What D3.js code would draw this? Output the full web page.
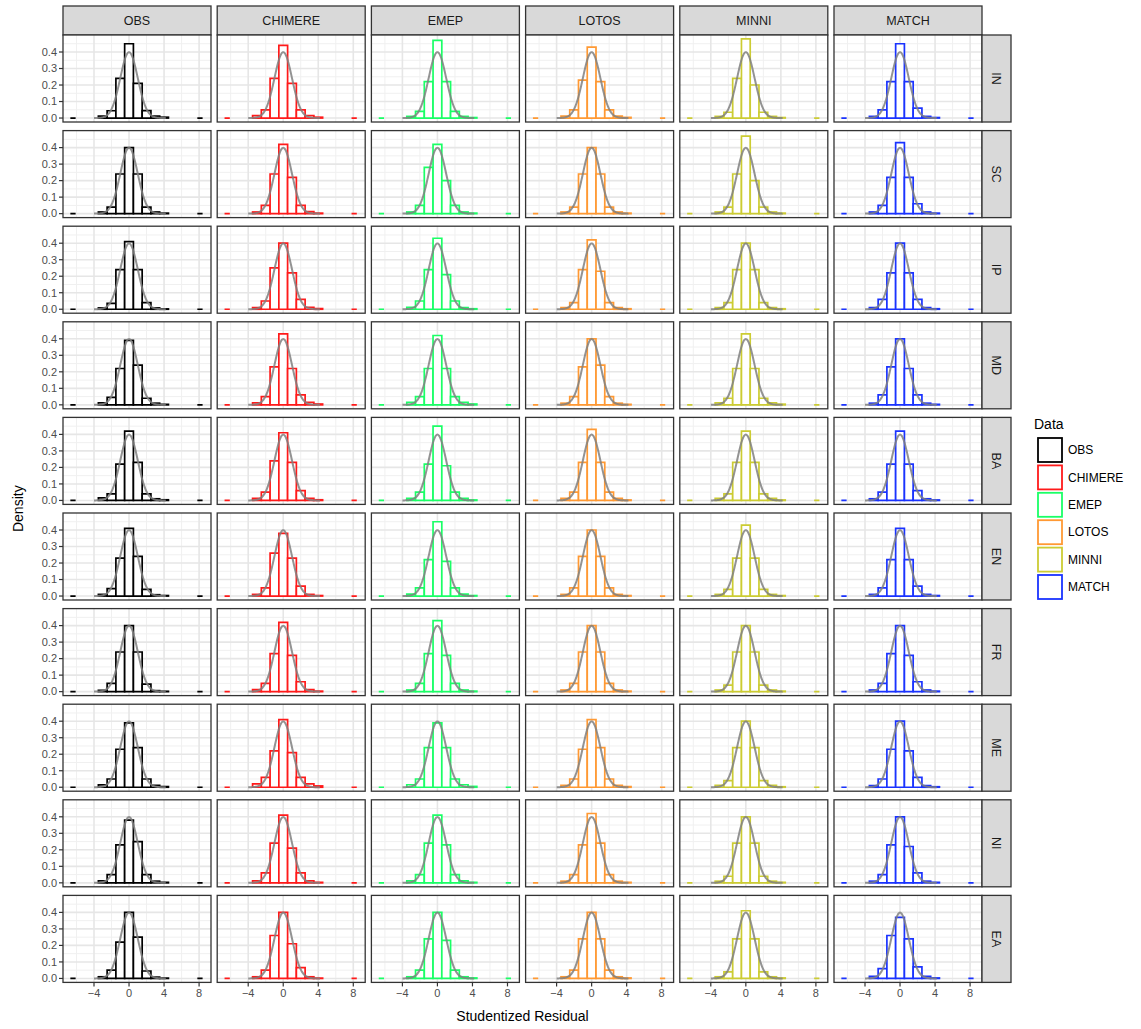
<!DOCTYPE html>
<html>
<head>
<meta charset="utf-8">
<script src="https://cdn.jsdelivr.net/npm/d3@7"></script>
<style>
  body { margin: 0; background: #fff; }
  text { font-family: "Liberation Sans", Arial, sans-serif; }
</style>
</head>
<body>
<svg id="chart" width="1141" height="1029"></svg>
<script>
const models = ["OBS", "CHIMERE", "EMEP", "LOTOS", "MINNI", "MATCH"];
const regions = ["IN", "SC", "IP", "MD", "BA", "EN", "FR", "ME", "NI", "EA"];
const colours = ["#000000", "#ff1a1a", "#1aff66", "#ff9933", "#cccc33", "#1a33ff"];
const binCenters = [-3, -2, -1, 0, 1, 2, 3, 4];
const tailCenters = [-6.4, 8.1];
const xTicks = [-4, 0, 4, 8];
const xMinor = [-6, -2, 2, 6];
const yTicks = [0, 0.1, 0.2, 0.3, 0.4];
const yMinor = [0.05, 0.15, 0.25, 0.35, 0.45];

// bin heights per region (rows follow `regions`), columns follow binCenters
const obsBins = [
  [0.012, 0.044, 0.24, 0.45, 0.21, 0.045, 0.012, 0.005],
  [0.010, 0.040, 0.24, 0.40, 0.24, 0.040, 0.010, 0.003],
  [0.008, 0.035, 0.24, 0.41, 0.24, 0.040, 0.008, 0.002],
  [0.012, 0.045, 0.22, 0.39, 0.24, 0.040, 0.010, 0.003],
  [0.015, 0.040, 0.22, 0.42, 0.23, 0.040, 0.010, 0.004],
  [0.010, 0.045, 0.23, 0.41, 0.24, 0.040, 0.008, 0.003],
  [0.008, 0.050, 0.24, 0.40, 0.24, 0.045, 0.006, 0.002],
  [0.014, 0.050, 0.23, 0.39, 0.24, 0.050, 0.012, 0.004],
  [0.012, 0.050, 0.23, 0.38, 0.25, 0.050, 0.010, 0.003],
  [0.010, 0.050, 0.22, 0.40, 0.25, 0.045, 0.008, 0.002]
];
const chimereBins = [
  [0.015, 0.050, 0.24, 0.44, 0.21, 0.050, 0.015, 0.005],
  [0.010, 0.050, 0.24, 0.42, 0.22, 0.050, 0.012, 0.003],
  [0.010, 0.050, 0.25, 0.40, 0.22, 0.060, 0.012, 0.004],
  [0.012, 0.050, 0.23, 0.43, 0.22, 0.060, 0.015, 0.005],
  [0.012, 0.050, 0.24, 0.41, 0.23, 0.060, 0.012, 0.004],
  [0.010, 0.050, 0.26, 0.38, 0.23, 0.060, 0.010, 0.003],
  [0.012, 0.050, 0.23, 0.42, 0.22, 0.060, 0.012, 0.003],
  [0.020, 0.060, 0.22, 0.41, 0.21, 0.060, 0.020, 0.008],
  [0.012, 0.060, 0.24, 0.41, 0.21, 0.060, 0.012, 0.003],
  [0.010, 0.050, 0.26, 0.40, 0.21, 0.065, 0.010, 0.002]
];
const emepBins = [
  [0.010, 0.040, 0.22, 0.47, 0.22, 0.040, 0.010, 0.003],
  [0.010, 0.050, 0.28, 0.42, 0.20, 0.050, 0.010, 0.003],
  [0.012, 0.050, 0.24, 0.43, 0.21, 0.050, 0.010, 0.003],
  [0.015, 0.050, 0.22, 0.42, 0.22, 0.050, 0.015, 0.005],
  [0.012, 0.050, 0.22, 0.45, 0.21, 0.050, 0.012, 0.003],
  [0.012, 0.050, 0.22, 0.45, 0.21, 0.050, 0.012, 0.003],
  [0.010, 0.050, 0.23, 0.43, 0.22, 0.050, 0.010, 0.003],
  [0.015, 0.050, 0.24, 0.39, 0.24, 0.050, 0.015, 0.005],
  [0.012, 0.050, 0.24, 0.41, 0.23, 0.050, 0.012, 0.003],
  [0.010, 0.050, 0.24, 0.40, 0.23, 0.050, 0.010, 0.003]
];
const lotosBins = [
  [0.012, 0.050, 0.23, 0.43, 0.22, 0.050, 0.012, 0.004],
  [0.010, 0.040, 0.24, 0.40, 0.24, 0.040, 0.010, 0.003],
  [0.010, 0.040, 0.24, 0.42, 0.23, 0.040, 0.010, 0.003],
  [0.010, 0.050, 0.23, 0.40, 0.24, 0.050, 0.010, 0.003],
  [0.012, 0.050, 0.23, 0.43, 0.23, 0.050, 0.012, 0.003],
  [0.010, 0.050, 0.24, 0.40, 0.24, 0.050, 0.010, 0.003],
  [0.010, 0.050, 0.24, 0.40, 0.24, 0.050, 0.010, 0.003],
  [0.012, 0.050, 0.23, 0.41, 0.24, 0.050, 0.012, 0.004],
  [0.010, 0.050, 0.23, 0.42, 0.24, 0.050, 0.010, 0.003],
  [0.010, 0.050, 0.24, 0.40, 0.24, 0.050, 0.010, 0.003]
];
const minniBins = [
  [0.010, 0.035, 0.24, 0.48, 0.20, 0.035, 0.010, 0.003],
  [0.010, 0.040, 0.24, 0.47, 0.20, 0.040, 0.010, 0.003],
  [0.010, 0.040, 0.24, 0.40, 0.24, 0.040, 0.010, 0.003],
  [0.012, 0.040, 0.22, 0.43, 0.22, 0.040, 0.012, 0.004],
  [0.012, 0.040, 0.23, 0.42, 0.23, 0.040, 0.012, 0.003],
  [0.010, 0.040, 0.23, 0.43, 0.23, 0.040, 0.010, 0.003],
  [0.010, 0.040, 0.24, 0.40, 0.24, 0.040, 0.010, 0.003],
  [0.012, 0.040, 0.24, 0.40, 0.24, 0.040, 0.012, 0.003],
  [0.010, 0.040, 0.24, 0.40, 0.24, 0.040, 0.010, 0.003],
  [0.010, 0.040, 0.24, 0.41, 0.24, 0.040, 0.010, 0.003]
];
const matchBins = [
  [0.010, 0.050, 0.22, 0.45, 0.22, 0.060, 0.010, 0.003],
  [0.010, 0.050, 0.22, 0.43, 0.22, 0.060, 0.010, 0.003],
  [0.010, 0.060, 0.22, 0.40, 0.22, 0.060, 0.010, 0.003],
  [0.010, 0.060, 0.23, 0.40, 0.22, 0.060, 0.010, 0.003],
  [0.010, 0.050, 0.22, 0.42, 0.22, 0.060, 0.010, 0.003],
  [0.010, 0.050, 0.22, 0.41, 0.22, 0.060, 0.010, 0.003],
  [0.010, 0.050, 0.23, 0.40, 0.22, 0.060, 0.010, 0.003],
  [0.010, 0.050, 0.23, 0.40, 0.22, 0.060, 0.010, 0.003],
  [0.010, 0.050, 0.23, 0.40, 0.22, 0.060, 0.010, 0.003],
  [0.012, 0.060, 0.26, 0.37, 0.24, 0.070, 0.012, 0.003]
];
const allBins = [obsBins, chimereBins, emepBins, lotosBins, minniBins, matchBins];

const svg = d3.select("#chart");
const left0 = 63, top0 = 35;
const panelW = 148, panelH = 87;
const pitchX = 154.2, pitchY = 95.6;
const stripH = 29;
const border = "#333333";
const axisGrey = "#4d4d4d";

const x = d3.scaleLinear().domain([-7.54, 9.36]).range([0, panelW]);
const y = d3.scaleLinear().domain([-0.024, 0.503]).range([panelH, 0]);

// grey fitted normal curve
const curvePts = d3.range(-4.0, 4.21, 0.05).map(v => [v, Math.exp(-v * v / 2) / Math.sqrt(2 * Math.PI)]);
const line = d3.line().x(d => x(d[0])).y(d => y(d[1])).curve(d3.curveBasis);

// bar outline as a closed path so that empty bins still show as a flat line
function barPath(d) {
    const w = d.w || 1;
    const x0 = x(d.c - w / 2), x1 = x(d.c + w / 2);
    const y0 = y(0), y1 = y(d.h);
    return `M${x0},${y0}L${x0},${y1}L${x1},${y1}L${x1},${y0}Z`;
}

models.forEach((m, c) => {
    const px = left0 + c * pitchX;
    // column strip
    const strip = svg.append("g").attr("transform", `translate(${px},${top0 - stripH})`);
    strip.append("rect").attr("width", panelW).attr("height", stripH)
        .attr("fill", "#d9d9d9").attr("stroke", border).attr("stroke-width", 1.3);
    strip.append("text").attr("x", panelW / 2).attr("y", stripH / 2).attr("dy", "0.35em")
        .attr("text-anchor", "middle").attr("font-size", 12.5).attr("fill", "#1a1a1a").text(m);

    regions.forEach((r, ri) => {
        const py = top0 + ri * pitchY;
        const g = svg.append("g").attr("transform", `translate(${px},${py})`);
        g.append("rect").attr("width", panelW).attr("height", panelH).attr("fill", "#fff");
        // grid
        g.selectAll(".vmin").data(xMinor).enter().append("line")
            .attr("x1", d => x(d)).attr("x2", d => x(d)).attr("y1", 0).attr("y2", panelH)
            .attr("stroke", "#f0f0f0").attr("stroke-width", 1);
        g.selectAll(".hmin").data(yMinor).enter().append("line")
            .attr("y1", d => y(d)).attr("y2", d => y(d)).attr("x1", 0).attr("x2", panelW)
            .attr("stroke", "#f0f0f0").attr("stroke-width", 1);
        g.selectAll(".vmaj").data(xTicks).enter().append("line")
            .attr("x1", d => x(d)).attr("x2", d => x(d)).attr("y1", 0).attr("y2", panelH)
            .attr("stroke", "#e6e6e6").attr("stroke-width", 1.6);
        g.selectAll(".hmaj").data(yTicks).enter().append("line")
            .attr("y1", d => y(d)).attr("y2", d => y(d)).attr("x1", 0).attr("x2", panelW)
            .attr("stroke", "#e6e6e6").attr("stroke-width", 1.6);

        // histogram
        const bins = allBins[c][ri].map((h, i) => ({ c: binCenters[i], h }));
        const tails = tailCenters.map(t => ({ c: t, h: 0, w: 0.6 }));
        g.selectAll(".bar").data(bins.concat(tails)).enter().append("path")
            .attr("d", barPath)
            .attr("fill", "#fff").attr("stroke", colours[c]).attr("stroke-width", 1.7);

        g.append("path").datum(curvePts).attr("d", line)
            .attr("fill", "none").attr("stroke", "#808080").attr("stroke-opacity", 0.85)
            .attr("stroke-width", 2);

        g.append("rect").attr("width", panelW).attr("height", panelH)
            .attr("fill", "none").attr("stroke", border).attr("stroke-width", 1.3);

        if (c === 0) {
            g.selectAll(".yt").data(yTicks).enter().append("line")
                .attr("x1", -4).attr("x2", 0).attr("y1", d => y(d)).attr("y2", d => y(d))
                .attr("stroke", border).attr("stroke-width", 1.2);
            g.selectAll(".yl").data(yTicks).enter().append("text")
                .attr("x", -6).attr("y", d => y(d)).attr("dy", "0.35em")
                .attr("text-anchor", "end").attr("font-size", 11).attr("fill", axisGrey)
                .text(d => d3.format(".1f")(d));
        }
        if (ri === regions.length - 1) {
            g.selectAll(".xt").data(xTicks).enter().append("line")
                .attr("x1", d => x(d)).attr("x2", d => x(d)).attr("y1", panelH).attr("y2", panelH + 4)
                .attr("stroke", border).attr("stroke-width", 1.2);
            g.selectAll(".xl").data(xTicks).enter().append("text")
                .attr("x", d => x(d)).attr("y", panelH + 15)
                .attr("text-anchor", "middle").attr("font-size", 11).attr("fill", axisGrey)
                .text(d => d < 0 ? "\u2212" + Math.abs(d) : d);
        }
        if (c === models.length - 1) {
            const sx = panelW;
            g.append("rect").attr("x", sx).attr("width", stripH).attr("height", panelH)
                .attr("fill", "#d9d9d9").attr("stroke", border).attr("stroke-width", 1.3);
            g.append("text").attr("transform", `translate(${sx + stripH / 2},${panelH / 2}) rotate(90)`)
                .attr("text-anchor", "middle").attr("dy", "0.35em")
                .attr("font-size", 12.5).attr("fill", "#1a1a1a").text(r);
        }
    });
});

// axis titles
const panelsRight = left0 + (models.length - 1) * pitchX + panelW;
const panelsBottom = top0 + (regions.length - 1) * pitchY + panelH;
svg.append("text").attr("x", (left0 + panelsRight) / 2).attr("y", panelsBottom + 39)
    .attr("text-anchor", "middle").attr("font-size", 14).attr("fill", "#000").text("Studentized Residual");
svg.append("text").attr("transform", `translate(18,${(top0 + panelsBottom) / 2}) rotate(-90)`)
    .attr("text-anchor", "middle").attr("dy", "0.35em").attr("font-size", 14).attr("fill", "#000").text("Density");

// legend
const legend = svg.append("g").attr("transform", "translate(1034,437)");
legend.append("text").attr("x", 0).attr("y", -8).attr("font-size", 14).attr("fill", "#000").text("Data");
models.forEach((m, i) => {
    const ly = i * 27.4;
    legend.append("rect").attr("x", 4).attr("y", ly + 1).attr("width", 24).attr("height", 24)
        .attr("fill", "#fff").attr("stroke", colours[i]).attr("stroke-width", 1.8);
    legend.append("text").attr("x", 34).attr("y", ly + 13).attr("dy", "0.35em")
        .attr("font-size", 12).attr("fill", "#000").text(m);
});
</script>
</body>
</html>
